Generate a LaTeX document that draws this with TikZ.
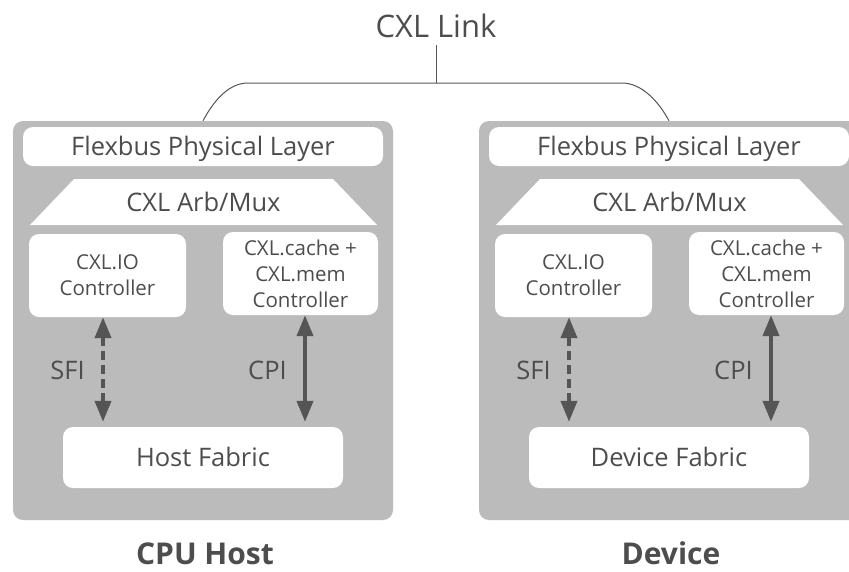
\documentclass[tikz,border=0pt]{standalone}
\usepackage{fontspec}
\setmainfont{Open Sans}
\usetikzlibrary{arrows.meta}

\definecolor{panel}{HTML}{BBBBBB}
\definecolor{ink}{HTML}{4D4D4D}
\definecolor{arrowgray}{HTML}{555555}

\newcommand\cxlBig{\fontsize{25.5}{30}\selectfont}
\newcommand\cxlSmall{\fontsize{20.5}{26}\selectfont}
\newcommand\cxlLink{\fontsize{31}{36}\selectfont}
\newcommand\cxlTitle{\fontsize{30}{36}\selectfont\bfseries}

\begin{document}
\begin{tikzpicture}[x=1pt,y=-1pt,
  panelbox/.style={fill=panel, rounded corners=10pt, inner sep=0pt},
  whitebox/.style={fill=white, rounded corners=10pt, inner sep=0pt,
    text=ink, align=center, font=\cxlSmall},
  bigbox/.style={whitebox, font=\cxlBig, text height=18pt, text depth=0pt},
  plain/.style={inner sep=0pt, text=ink, font=\cxlBig, text height=18pt, text depth=0pt},
  title/.style={inner sep=0pt, text=ink, font=\cxlTitle, text height=21.4pt, text depth=0pt},
  linkline/.style={draw=arrowgray, line width=1pt},
  bus/.style={draw=arrowgray, line width=4pt,
    {Triangle[length=21pt,width=16pt]}-{Triangle[length=21pt,width=16pt]},
    shorten >=5pt},
  dashedbus/.style={bus, dash pattern=on 9pt off 5pt},
]
\useasboundingbox (0,0) rectangle (849,571);
\clip (0,0) rectangle (849,571);

% ---------- CPU host side ----------
\node[panelbox, minimum width=380pt, minimum height=399pt] (cpu) at (203,320.5) {};
\node[bigbox, minimum width=360pt, minimum height=39pt] (phyL) at (203,146.5) {Flexbus Physical Layer};
\fill[white] (74,179) -- (333,179) -- (377,225) -- (30,225) -- cycle;
\node[plain] (arbL) at (203.5,202) {CXL Arb/Mux};
\node[whitebox, minimum width=157pt, minimum height=83pt] (ioL) at (107.5,275.5) {CXL.IO\\Controller};
\node[whitebox, minimum width=155pt, minimum height=83pt] (memL) at (300.5,273.5) {CXL.cache +\\CXL.mem\\Controller};
\node[bigbox, minimum width=280pt, minimum height=61pt] (hfL) at (203,457.5) {Host Fabric};
\draw[dashedbus] ([xshift=-4.5pt]ioL.south) -- ([xshift=-4.5pt]ioL.south |- hfL.north);
\draw[bus] ([xshift=4.5pt]memL.south) -- ([xshift=4.5pt]memL.south |- hfL.north);
\node[plain] (sfiL) at (67.5,370) {SFI};
\node[plain] (cpiL) at (267.5,370) {CPI};
\node[title] (hostT) at (205,554) {CPU Host};

% ---------- Device side ----------
\node[panelbox, minimum width=380pt, minimum height=399pt] (dev) at (669,320.5) {};
\node[bigbox, minimum width=360pt, minimum height=39pt] (phyR) at (669,146.5) {Flexbus Physical Layer};
\fill[white] (540,179) -- (799,179) -- (843,225) -- (496,225) -- cycle;
\node[plain] (arbR) at (669.5,202) {CXL Arb/Mux};
\node[whitebox, minimum width=157pt, minimum height=83pt] (ioR) at (573.5,275.5) {CXL.IO\\Controller};
\node[whitebox, minimum width=155pt, minimum height=83pt] (memR) at (766.5,273.5) {CXL.cache +\\CXL.mem\\Controller};
\node[bigbox, minimum width=280pt, minimum height=61pt] (hfR) at (669,457.5) {Device Fabric};
\draw[dashedbus] ([xshift=-4.5pt]ioR.south) -- ([xshift=-4.5pt]ioR.south |- hfR.north);
\draw[bus] ([xshift=4.5pt]memR.south) -- ([xshift=4.5pt]memR.south |- hfR.north);
\node[plain] (sfiR) at (533.5,370) {SFI};
\node[plain] (cpiR) at (733.5,370) {CPI};
\node[title] (devT) at (671,554) {Device};

% ---------- CXL link joining both sides ----------
\node[inner sep=0pt, text=ink, font=\cxlLink, anchor=base] (link) at (436,37) {CXL Link};
\coordinate (junction) at (436,83);
\draw[linkline] ([yshift=-8pt]link.base) -- (junction);
\draw[linkline] (cpu.north) .. controls (213,102) and (228,83) .. (248,83)
  -- (622,83) .. controls (642,83) and (659,102) .. (dev.north);
\end{tikzpicture}
\end{document}
